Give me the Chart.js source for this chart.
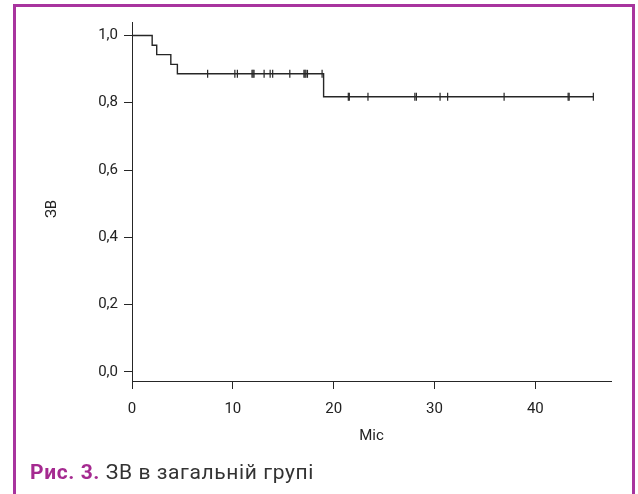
<!DOCTYPE html>
<html>
<head>
<meta charset="utf-8">
<script src="https://cdn.jsdelivr.net/npm/chart.js@4.4.1/dist/chart.umd.min.js"></script>
<style>
  html, body { margin:0; padding:0; background:#fff; }
  body { width:638px; height:494px; position:relative; overflow:hidden; }
  .frame { position:absolute; left:13px; top:4px; width:616px; height:520px; border:3px solid #a8349e; }
  #kmChart { position:absolute; left:0; top:0; }
  .caption { position:absolute; left:30px; top:460px; font-family:Roboto, sans-serif; font-size:21px; letter-spacing:0.6px; line-height:24px; color:#333; white-space:nowrap; }
  .caption b { color:#a52a90; font-weight:700; }
</style>
</head>
<body>
<div class="frame"></div>
<canvas id="kmChart" width="638" height="494"></canvas>
<div class="caption"><b>Рис. 3.</b> ЗВ в загальній групі</div>
<script>
// -- DATA
const stepTimes = [0, 2.0, 2.45, 3.85, 4.5, 19.0, 45.8];
const stepSurv  = [1.0, 0.971, 0.943, 0.914, 0.886, 0.818, 0.818];
const censorTimes = [7.5, 10.2, 10.45, 11.9, 12.0, 12.1, 13.1, 13.7, 13.95, 15.65, 17.05, 17.15, 17.25, 17.4, 18.85,
                     21.45, 21.55, 23.4, 28.05, 28.2, 30.55, 31.3, 36.9, 43.25, 43.35, 45.75];
const xTicks = [0, 10, 20, 30, 40];
const yTicks = [0, 0.2, 0.4, 0.6, 0.8, 1.0];

// survival level at time t (censor marks sit on the curve)
function survAt(t) {
  let s = stepSurv[0];
  stepTimes.forEach((st, i) => { if (st <= t) s = stepSurv[i]; });
  return s;
}

const ink = '#262626';
const tickFont = { family:'Roboto', size:15 };

new Chart(document.getElementById('kmChart').getContext('2d'), {
  type: 'line',
  data: {
    datasets: [
      {
        data: stepTimes.map((t, i) => ({ x:t, y:stepSurv[i] })),
        stepped: 'before',
        borderColor: ink, borderWidth: 1.4,
        pointRadius: 0, fill: false
      },
      {
        data: censorTimes.map(t => ({ x:t, y:survAt(t) })),
        showLine: false,
        pointStyle: 'line', rotation: 90, pointRadius: 4,
        borderColor: ink, borderWidth: 1.2
      }
    ]
  },
  options: {
    responsive: false, animation: false,
    layout: { padding: { left:0, top:22, right:27, bottom:0 } },
    plugins: { legend: { display:false }, tooltip: { enabled:false } },
    scales: {
      x: {
        type: 'linear', min: 0, max: 47.5,
        afterBuildTicks: s => { s.ticks = xTicks.map(v => ({ value:v })); },
        afterFit: s => { s.height = 113; },
        grid: { drawOnChartArea:false, tickLength:8, color:ink },
        border: { color:ink, width:1 },
        ticks: { font:tickFont, color:'#222', padding:11, maxRotation:0 },
        title: { display:true, text:'Міс', font:tickFont, color:'#222', padding:{ top:0, bottom:49 } }
      },
      y: {
        min: -0.027, max: 1.04,
        afterBuildTicks: s => { s.ticks = yTicks.map(v => ({ value:v })); },
        afterFit: s => { s.width = 132; },
        grid: { drawOnChartArea:false, tickLength:8, color:ink },
        border: { color:ink, width:1 },
        ticks: { font:tickFont, color:'#222', padding:6, callback: v => v.toFixed(1).replace('.', ',') },
        // trailing spaces push the rotated label a little lower, as in the figure
        title: { display:true, text:'ЗВ    ', font:tickFont, color:'#222', padding:{ top:43, bottom:0 } }
      }
    }
  }
});
</script>
</body>
</html>
